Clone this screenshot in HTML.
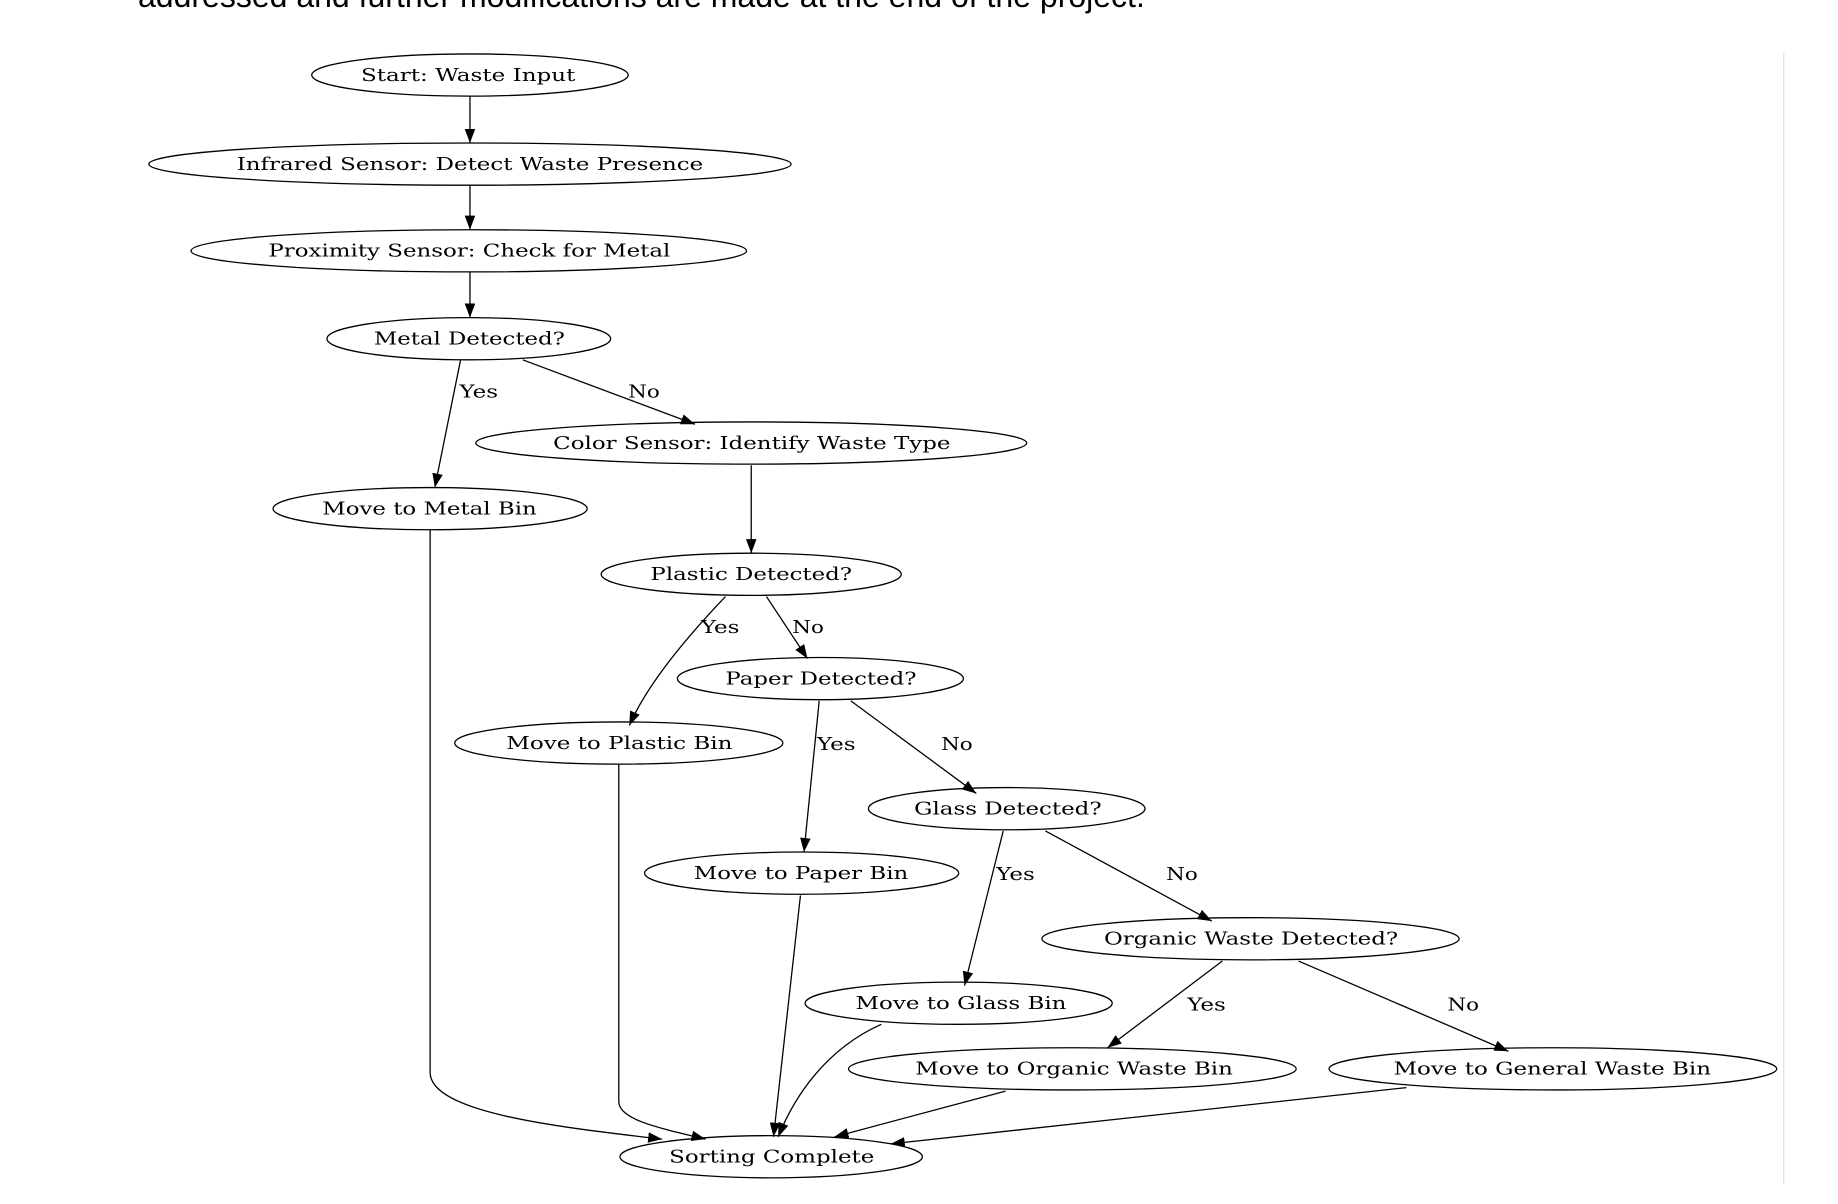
<!DOCTYPE html>
<html><head><meta charset="utf-8"><style>
html,body{margin:0;padding:0;background:#fff;width:1838px;height:1204px;overflow:hidden;}
.top{position:absolute;left:138px;top:-22px;font-family:"Liberation Sans",Arial,sans-serif;font-size:32px;color:#000;white-space:nowrap;}
svg{position:absolute;left:0;top:0;}
</style></head><body>
<div class="top">addressed and further modifications are made at the end of the project.</div>
<svg width="1838" height="1204" viewBox="0 0 1568.3 1027.3" xmlns="http://www.w3.org/2000/svg">
<defs><marker id="a" markerWidth="12" markerHeight="9" refX="12" refY="4.5" orient="auto" markerUnits="userSpaceOnUse"><path d="M0,0 L12,4.5 L0,9 Z" fill="#000"/></marker></defs>
<line x1="1522" y1="45" x2="1522" y2="1010" stroke="#ddd" stroke-width="1"/>
<g fill="none" stroke="#000" stroke-width="1.1">
<ellipse cx="401" cy="64" rx="135" ry="18"/>
<ellipse cx="401" cy="140" rx="274" ry="18"/>
<ellipse cx="400" cy="214" rx="237" ry="18"/>
<ellipse cx="400" cy="289" rx="121" ry="18"/>
<ellipse cx="641" cy="378" rx="235" ry="18"/>
<ellipse cx="367" cy="434" rx="134" ry="18"/>
<ellipse cx="641" cy="490" rx="128" ry="18"/>
<ellipse cx="700" cy="579" rx="122" ry="18"/>
<ellipse cx="528" cy="634" rx="140" ry="18"/>
<ellipse cx="859" cy="690" rx="118" ry="18"/>
<ellipse cx="684" cy="745" rx="134" ry="18"/>
<ellipse cx="1067" cy="801" rx="178" ry="18"/>
<ellipse cx="818" cy="856" rx="131" ry="18"/>
<ellipse cx="915" cy="912" rx="191" ry="18"/>
<ellipse cx="1325" cy="912" rx="191" ry="18"/>
<ellipse cx="658" cy="987" rx="129" ry="18"/>
</g>
<g fill="none" stroke="#000" stroke-width="1.1" marker-end="url(#a)">
<path d="M401,82 L401,122"/>
<path d="M401,158 L401,196"/>
<path d="M401,232 L401,271"/>
<path d="M393,307 L371,416"/>
<path d="M446,307 L593,362"/>
<path d="M641,397 L641,472"/>
<path d="M619,509 Q556,575 537,619"/>
<path d="M654,509 L689,562"/>
<path d="M699,598 L686,727"/>
<path d="M726,598 L833,677"/>
<path d="M856,709 L823,841"/>
<path d="M892,709 L1034,786"/>
<path d="M1043,820 L945,894"/>
<path d="M1108,820 L1287,897"/>
<path d="M367,452 L367,915 C367,950 480,962 565,972"/>
<path d="M528,652 L528,940 C528,955 560,962 602,972"/>
<path d="M683,764 L660,970"/>
<path d="M752,874 C705,895 678,935 664,970"/>
<path d="M858,931 L712,970"/>
<path d="M1200,928 L760,976"/>
</g>
<g font-family="'DejaVu Serif','Liberation Serif',serif" font-size="15" fill="#000">
<text x="308" y="69" textLength="183" lengthAdjust="spacingAndGlyphs">Start: Waste Input</text>
<text x="202" y="145" textLength="398" lengthAdjust="spacingAndGlyphs">Infrared Sensor: Detect Waste Presence</text>
<text x="229" y="219" textLength="343" lengthAdjust="spacingAndGlyphs">Proximity Sensor: Check for Metal</text>
<text x="319" y="294" textLength="163" lengthAdjust="spacingAndGlyphs">Metal Detected?</text>
<text x="472" y="383" textLength="339" lengthAdjust="spacingAndGlyphs">Color Sensor: Identify Waste Type</text>
<text x="275" y="439" textLength="183" lengthAdjust="spacingAndGlyphs">Move to Metal Bin</text>
<text x="555" y="495" textLength="172" lengthAdjust="spacingAndGlyphs">Plastic Detected?</text>
<text x="619" y="584" textLength="163" lengthAdjust="spacingAndGlyphs">Paper Detected?</text>
<text x="432" y="639" textLength="193" lengthAdjust="spacingAndGlyphs">Move to Plastic Bin</text>
<text x="780" y="695" textLength="160" lengthAdjust="spacingAndGlyphs">Glass Detected?</text>
<text x="592" y="750" textLength="183" lengthAdjust="spacingAndGlyphs">Move to Paper Bin</text>
<text x="942" y="806" textLength="251" lengthAdjust="spacingAndGlyphs">Organic Waste Detected?</text>
<text x="730" y="861" textLength="180" lengthAdjust="spacingAndGlyphs">Move to Glass Bin</text>
<text x="781" y="917" textLength="271" lengthAdjust="spacingAndGlyphs">Move to Organic Waste Bin</text>
<text x="1189" y="917" textLength="271" lengthAdjust="spacingAndGlyphs">Move to General Waste Bin</text>
<text x="571" y="992" textLength="175" lengthAdjust="spacingAndGlyphs">Sorting Complete</text>
<text x="392" y="339" textLength="33" lengthAdjust="spacingAndGlyphs">Yes</text>
<text x="536" y="339" textLength="27" lengthAdjust="spacingAndGlyphs">No</text>
<text x="598" y="540" textLength="33" lengthAdjust="spacingAndGlyphs">Yes</text>
<text x="676" y="540" textLength="27" lengthAdjust="spacingAndGlyphs">No</text>
<text x="697" y="640" textLength="33" lengthAdjust="spacingAndGlyphs">Yes</text>
<text x="803" y="640" textLength="27" lengthAdjust="spacingAndGlyphs">No</text>
<text x="850" y="751" textLength="33" lengthAdjust="spacingAndGlyphs">Yes</text>
<text x="995" y="751" textLength="27" lengthAdjust="spacingAndGlyphs">No</text>
<text x="1013" y="862" textLength="33" lengthAdjust="spacingAndGlyphs">Yes</text>
<text x="1235" y="862" textLength="27" lengthAdjust="spacingAndGlyphs">No</text>
</g>
</svg>
</body></html>
